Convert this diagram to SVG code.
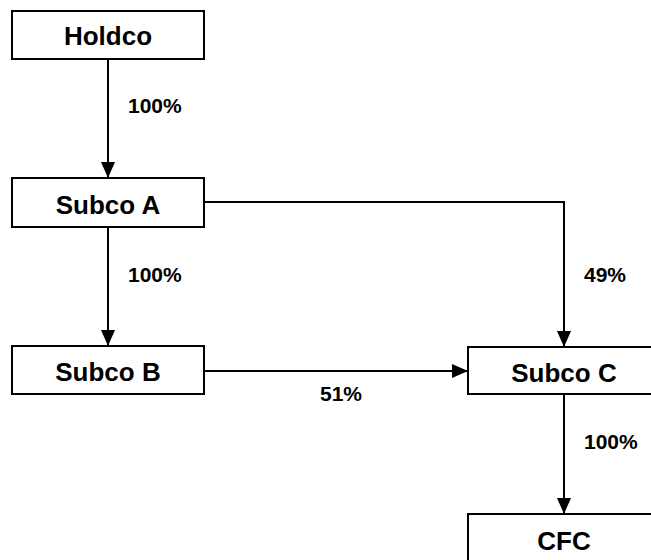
<svg xmlns="http://www.w3.org/2000/svg" width="651" height="560" viewBox="0 0 651 560">
<style>
.box{fill:#fff;stroke:#000;stroke-width:2}
.t{font-family:"Liberation Sans",Arial,sans-serif;font-weight:bold;font-size:26px;text-anchor:middle;fill:#000}
.p{font-family:"Liberation Sans",Arial,sans-serif;font-weight:bold;font-size:21px;fill:#000}
.c{fill:none;stroke:#000;stroke-width:2}
</style>
<defs>
<marker id="ah" markerUnits="userSpaceOnUse" markerWidth="16" markerHeight="14" refX="16" refY="7" orient="auto">
<path d="M0,0 L16,7 L0,14 Z" fill="#000"/>
</marker>
</defs>
<rect width="651" height="560" fill="#fff"/>
<g id="connectors">
<path class="c" d="M108,60 V178" marker-end="url(#ah)"/>
<path class="c" d="M108,228 V346" marker-end="url(#ah)"/>
<path class="c" d="M204,202 H564 V347" marker-end="url(#ah)"/>
<path class="c" d="M204,371 H468" marker-end="url(#ah)"/>
<path class="c" d="M564,394 V514" marker-end="url(#ah)"/>
<text class="p" x="128" y="113">100%</text>
<text class="p" x="128" y="282">100%</text>
<text class="p" x="584" y="282">49%</text>
<text class="p" x="320" y="401">51%</text>
<text class="p" x="584" y="449">100%</text>
</g>
<g id="holdco"><rect class="box" x="12" y="11" width="192" height="48"/><text class="t" x="108" y="45">Holdco</text></g>
<g id="subcoA"><rect class="box" x="12" y="178" width="192" height="49"/><text class="t" x="108" y="214">Subco A</text></g>
<g id="subcoB"><rect class="box" x="12" y="346" width="192" height="48"/><text class="t" x="108" y="381">Subco B</text></g>
<g id="subcoC"><rect class="box" x="468" y="347" width="192" height="47"/><text class="t" x="564" y="382">Subco C</text></g>
<g id="cfc"><rect class="box" x="468" y="514" width="192" height="60"/><text class="t" x="564" y="550">CFC</text></g>
</svg>
